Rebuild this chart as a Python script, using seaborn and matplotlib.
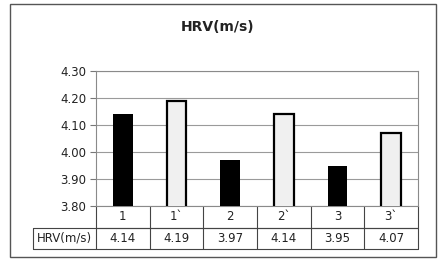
import matplotlib
matplotlib.use('Agg')
import matplotlib.pyplot as plt
from matplotlib.patches import Rectangle
import seaborn as sns
import pandas as pd

categories = ['1', '1`', '2', '2`', '3', '3`']
values = [4.14, 4.19, 3.97, 4.14, 3.95, 4.07]
groups = ['pre', 'post', 'pre', 'post', 'pre', 'post']
row_label = 'HRV(m/s)'
title = 'HRV(m/s)'
yticks = [3.80, 3.90, 4.00, 4.10, 4.20, 4.30]

df = pd.DataFrame({'cat': categories, 'val': values, 'grp': groups})

sns.set_style('white')
plt.rcParams['font.family'] = ['DejaVu Sans']

W, H = 439, 261
fig = plt.figure(figsize=(W / 100, H / 100), dpi=100)
fig.patch.set_facecolor('white')

# outer frame
fig.add_artist(Rectangle((10.5 / W, 4 / H), 426 / W, 253 / H, transform=fig.transFigure,
                         fill=False, edgecolor='#555555', linewidth=1.0))

left, right, top, bottom = 96, 418, 71, 206
ax = fig.add_axes([left / W, 1 - bottom / H, (right - left) / W, (bottom - top) / H])

sns.barplot(data=df, x='cat', y='val', hue='grp', dodge=False, legend=False,
            palette={'pre': 'black', 'post': '#f0f0f0'}, width=0.37, ax=ax, zorder=3)
# light bars get a thick black outline, dark ones none
for bar in ax.patches:
    r, g, b, a = bar.get_facecolor()
    bar.set_edgecolor('black')
    bar.set_linewidth(1.6 if r > 0.5 else 0)

ax.set_ylim(3.80, 4.30)
ax.set_xlim(-0.5, len(categories) - 0.5)
ax.set_yticks(yticks)
ax.set_yticklabels(['%.2f' % t for t in yticks], fontsize=8.5, color='#222222')
ax.set_xticks([])
ax.set_xlabel('')
ax.set_ylabel('')
ax.tick_params(axis='y', length=4, width=0.8, color='#777777', left=True, pad=3)
ax.grid(axis='y', color='#9a9a9a', linewidth=0.8, zorder=0)
ax.set_axisbelow(True)
for s in ax.spines.values():
    s.set_color('#8a8a8a')
    s.set_linewidth(0.8)

# data table under the axis
ph = bottom - top
row_h = 21.5 / ph
tab_left = (33 - left) / (right - left)
lc = '#444444'
trans = ax.transAxes
ax.plot([0, 1], [-row_h, -row_h], color=lc, lw=0.8, transform=trans, clip_on=False)
ax.plot([tab_left, 1], [-row_h, -row_h], color=lc, lw=0.8, transform=trans, clip_on=False)
ax.plot([tab_left, 1], [-2 * row_h, -2 * row_h], color=lc, lw=0.8, transform=trans, clip_on=False)
ax.plot([tab_left, tab_left], [-row_h, -2 * row_h], color=lc, lw=0.8, transform=trans, clip_on=False)
n = len(categories)
for i in range(n + 1):
    xf = i / n
    ax.plot([xf, xf], [0, -2 * row_h], color=lc, lw=0.8, transform=trans, clip_on=False)
for i, (c, v) in enumerate(zip(categories, values)):
    xf = (i + 0.5) / n
    ax.text(xf, -row_h / 2, c, transform=trans, ha='center', va='center', fontsize=8.5, color='#222222')
    ax.text(xf, -1.5 * row_h, '%.2f' % v, transform=trans, ha='center', va='center', fontsize=8.5, color='#222222')
ax.text(tab_left / 2, -1.5 * row_h, row_label, transform=trans, ha='center', va='center', fontsize=8.5, color='#222222')

fig.text(218 / W, 1 - 27 / H, title, ha='center', va='center', fontsize=10, fontweight='bold', color='#222222')

fig.savefig('out.png', dpi=100, facecolor='white')
